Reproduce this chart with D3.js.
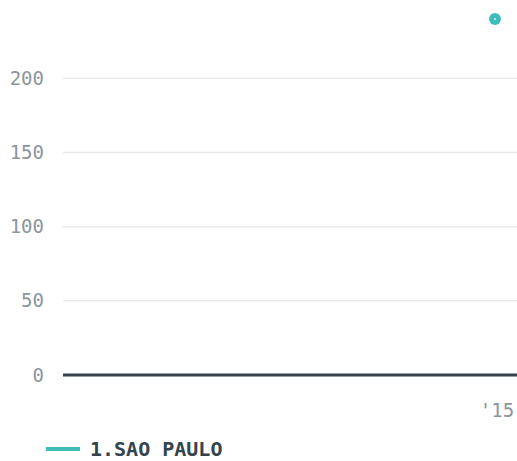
<!DOCTYPE html>
<html>
<head>
<meta charset="utf-8">
<script src="https://cdn.jsdelivr.net/npm/d3@7"></script>
<style>
  body { margin: 0; background: #fff; }
  svg text { font-family: "DejaVu Sans Mono", "Liberation Mono", monospace; }
</style>
</head>
<body>
<div id="chart"></div>
<script>
// data
var years = [2015];
var saoPaulo = [240];
var yTicks = [0, 50, 100, 150, 200];
var seriesName = "1.SAO PAULO";

var width = 517, height = 461;
var margin = {left: 63, right: 22, top: 19, bottom: 86};

var svg = d3.select("#chart").append("svg")
    .attr("width", width)
    .attr("height", height);

var x = d3.scaleLinear()
    .domain([2000, 2015])
    .range([margin.left, width - margin.right]);

var y = d3.scaleLinear()
    .domain([0, 240])
    .range([height - margin.bottom, margin.top]);

// gridlines
svg.selectAll("line.grid")
   .data(yTicks.filter(function(d) { return d > 0; }))
   .enter().append("line")
   .attr("class", "grid")
   .attr("x1", margin.left)
   .attr("x2", width)
   .attr("y1", function(d) { return y(d); })
   .attr("y2", function(d) { return y(d); })
   .attr("stroke", "#e8eaeb")
   .attr("stroke-width", 1.5);

// y tick labels
svg.selectAll("text.ytick")
   .data(yTicks)
   .enter().append("text")
   .attr("class", "ytick")
   .attr("x", 44)
   .attr("y", function(d) { return y(d); })
   .attr("dy", "0.35em")
   .attr("text-anchor", "end")
   .attr("fill", "#8b959c")
   .style("font-size", "19px")
   .text(function(d) { return d; });

// baseline
svg.append("line")
   .attr("x1", margin.left)
   .attr("x2", width)
   .attr("y1", y(0))
   .attr("y2", y(0))
   .attr("stroke", "#34444f")
   .attr("stroke-width", 3);

// x tick label
svg.selectAll("text.xtick")
   .data(years)
   .enter().append("text")
   .attr("class", "xtick")
   .attr("x", function(d) { return x(d) + 2; })
   .attr("y", 410)
   .attr("dy", "0.35em")
   .attr("text-anchor", "middle")
   .attr("fill", "#8b959c")
   .style("font-size", "19px")
   .text(function(d) { return "'" + String(d).slice(2); });

// the single point
var pts = years.map(function(d, i) { return {year: d, value: saoPaulo[i]}; });
svg.selectAll("circle.pt")
   .data(pts)
   .enter().append("circle")
   .attr("class", "pt")
   .attr("cx", function(d) { return x(d.year); })
   .attr("cy", function(d) { return y(d.value); })
   .attr("r", 6)
   .attr("fill", "#3fbdbd");
svg.selectAll("circle.ptc")
   .data(pts)
   .enter().append("circle")
   .attr("class", "ptc")
   .attr("cx", function(d) { return x(d.year); })
   .attr("cy", function(d) { return y(d.value); })
   .attr("r", 1)
   .attr("fill", "#d8f2f2");

// legend
svg.append("line")
   .attr("x1", 46)
   .attr("x2", 80)
   .attr("y1", 449)
   .attr("y2", 449)
   .attr("stroke", "#3fbdbd")
   .attr("stroke-width", 4);
svg.append("text")
   .attr("x", 90)
   .attr("y", 449)
   .attr("dy", "0.35em")
   .attr("fill", "#34444f")
   .style("font-size", "20px")
   .style("font-weight", "bold")
   .text(seriesName);
</script>
</body>
</html>
